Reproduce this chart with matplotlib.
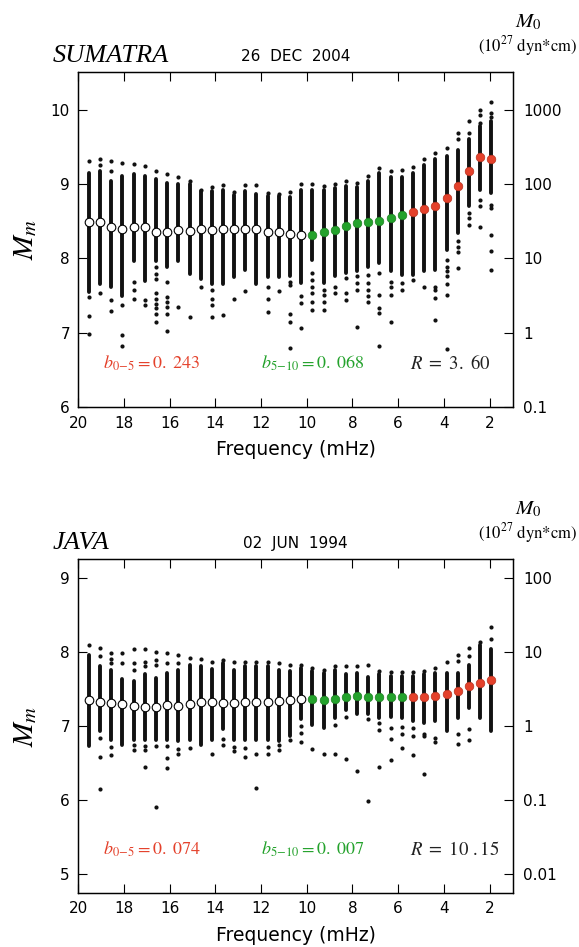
import numpy as np
import matplotlib
matplotlib.use("Agg")
import matplotlib.pyplot as plt

plt.rcParams['mathtext.fontset'] = 'stix'
plt.rcParams['font.family'] = 'DejaVu Sans'

# frequency of each column (mHz)
freqs = [19.53, 19.04, 18.55, 18.07, 17.58, 17.09, 16.60, 16.11, 15.62, 15.13,
         14.64, 14.15, 13.66, 13.17, 12.69, 12.20, 11.71, 11.22, 10.73, 10.24,
         9.75, 9.26, 8.77, 8.28, 7.79, 7.31, 6.82, 6.33, 5.84,
         5.35, 4.86, 4.37, 3.88, 3.39, 2.91, 2.42, 1.93]
n_white = 20   # > 10 mHz
n_green = 9    # 5-10 mHz, rest red

# ---- SUMATRA 26 DEC 2004 ----
sum_mean = [8.49, 8.49, 8.42, 8.39, 8.42, 8.42, 8.35, 8.36, 8.38, 8.37,
            8.39, 8.38, 8.40, 8.39, 8.40, 8.40, 8.36, 8.36, 8.33, 8.31,
            8.32, 8.35, 8.38, 8.43, 8.47, 8.49, 8.50, 8.54, 8.59,
            8.62, 8.67, 8.71, 8.81, 8.97, 9.18, 9.36, 9.34]
sum_core_hi = [9.15, 9.18, 9.04, 9.11, 9.13, 9.11, 9.07, 9.02, 9.00, 9.00,
               8.90, 8.90, 8.92, 8.85, 8.91, 8.87, 8.84, 8.84, 8.82, 8.92,
               8.92, 8.92, 8.94, 8.97, 8.96, 9.04, 9.15, 9.10, 9.09,
               9.15, 9.26, 9.33, 9.37, 9.46, 9.60, 9.78, 9.84]
sum_core_lo = [7.55, 7.66, 7.62, 7.50, 7.97, 7.70, 7.97, 7.88, 7.97, 7.79,
               7.73, 7.66, 7.66, 7.75, 7.84, 7.66, 7.75, 7.75, 7.77, 7.67,
               7.98, 7.67, 7.76, 7.80, 7.83, 7.89, 7.94, 7.83, 7.78,
               7.78, 7.83, 7.85, 8.12, 8.34, 8.70, 8.92, 8.88]
sum_dots = [
    [9.31, 7.48, 7.23, 6.99],
    [9.33, 9.25, 7.54],
    [9.31, 9.18, 7.44, 7.30],
    [9.28, 7.37, 6.97, 6.83],
    [9.27, 7.68, 7.57, 7.46],
    [9.24, 7.44, 7.37],
    [9.18, 7.88, 7.79, 7.73, 7.53, 7.46, 7.39, 7.33, 7.26, 7.15],
    [9.13, 7.68, 7.48, 7.42, 7.35, 7.26, 7.02],
    [9.09, 7.35],
    [9.04, 7.21],
    [8.92, 7.62],
    [8.96, 7.57, 7.46, 7.37, 7.21],
    [8.98, 7.24],
    [8.89, 7.45],
    [8.99, 7.56],
    [8.99],
    [8.88, 7.62, 7.46, 7.28],
    [8.87, 7.56],
    [8.89, 7.68, 7.64, 7.26, 7.15, 6.80],
    [9.00, 7.49, 7.40, 7.06],
    [9.00, 7.80, 7.71, 7.62, 7.53, 7.42, 7.31],
    [8.97, 7.58, 7.51, 7.42, 7.31],
    [9.00, 7.62, 7.54],
    [9.04, 7.74, 7.53, 7.44],
    [9.02, 7.76, 7.67, 7.58, 7.08],
    [9.11, 7.78, 7.67, 7.58, 7.50, 7.42],
    [9.22, 7.81, 7.51, 7.33, 7.27, 6.83],
    [9.18, 7.69, 7.62, 7.51, 7.14],
    [9.19, 7.67, 7.58],
    [9.23, 7.71],
    [9.33, 7.61],
    [9.42, 7.62, 7.58, 7.47, 7.17],
    [9.48, 7.98, 7.89, 7.83, 7.76, 7.65, 7.51, 6.79],
    [9.69, 9.61, 8.23, 8.16, 8.09, 7.87],
    [9.84, 9.69, 8.61, 8.54, 8.45],
    [9.99, 9.93, 9.82, 8.79, 8.70, 8.42],
    [10.10, 9.96, 9.90, 8.72, 8.68, 8.32, 8.10, 7.85],
]

# ---- JAVA 02 JUN 1994 ----
java_mean = [7.35, 7.33, 7.31, 7.30, 7.27, 7.26, 7.26, 7.28, 7.27, 7.30,
             7.32, 7.32, 7.31, 7.31, 7.32, 7.32, 7.33, 7.34, 7.35, 7.37,
             7.36, 7.35, 7.37, 7.39, 7.41, 7.39, 7.39, 7.39, 7.39,
             7.39, 7.39, 7.40, 7.43, 7.47, 7.54, 7.58, 7.62]
java_core_hi = [7.96, 7.81, 7.76, 7.63, 7.61, 7.70, 7.65, 7.72, 7.76, 7.83,
                7.81, 7.77, 7.85, 7.76, 7.81, 7.81, 7.81, 7.76, 7.74, 7.78,
                7.74, 7.72, 7.76, 7.70, 7.72, 7.66, 7.70, 7.68, 7.68,
                7.68, 7.70, 7.72, 7.72, 7.72, 7.83, 8.10, 8.04]
java_core_lo = [6.73, 6.93, 6.82, 6.75, 6.82, 6.82, 6.82, 6.82, 6.80, 6.82,
                6.75, 6.82, 6.96, 6.82, 6.82, 6.82, 6.82, 6.80, 6.87, 7.09,
                7.02, 6.98, 7.11, 7.22, 7.16, 7.16, 7.11, 7.13, 7.11,
                7.07, 7.04, 7.07, 6.93, 7.11, 7.25, 7.11, 6.93]
java_dots = [
    [8.09],
    [8.06, 7.94, 6.84, 6.58, 6.15],
    [7.98, 7.90, 7.85, 6.72, 6.61],
    [7.98, 7.85],
    [8.04, 7.85, 7.76, 6.74, 6.68],
    [8.04, 7.87, 7.81, 6.73, 6.68, 6.45],
    [8.00, 7.89, 7.82, 6.73, 5.91],
    [7.99, 7.85, 6.73, 6.57, 6.43],
    [7.96, 7.85, 6.69, 6.62],
    [7.92, 6.70],
    [7.91],
    [7.86, 6.62],
    [7.89, 6.83, 6.75],
    [7.86, 6.72, 6.66],
    [7.86, 6.70, 6.58],
    [7.86, 6.62, 6.17],
    [7.86, 6.72, 6.62],
    [7.85, 6.75, 6.68],
    [7.83, 6.82],
    [7.83, 7.00, 6.91, 6.78],
    [7.78, 6.69],
    [7.76, 6.62],
    [7.81, 7.01, 6.62],
    [7.81, 7.13, 6.56],
    [7.81, 6.39],
    [7.82, 7.10, 5.99],
    [7.74, 7.04, 6.95, 6.45],
    [7.73, 6.98, 6.83, 6.54],
    [7.73, 6.99, 6.90, 6.70],
    [7.73, 6.98, 6.87, 6.61],
    [7.74, 6.89, 6.87, 6.35],
    [7.78, 6.84, 6.78],
    [7.86],
    [7.96, 7.88, 6.89, 6.76],
    [8.06, 7.94, 6.96, 6.82],
    [8.13],
    [8.34, 8.17],
]

RED = '#e4412b'
GREEN = '#24a22c'


def draw_panel(ax, mean, core_hi, core_lo, dots, ylim, right_labels,
               name, date, b05, b510, rtext):
    x = np.array(freqs)
    # dense part of each column
    ax.vlines(x, core_lo, core_hi, color='#111111', lw=2.8, capstyle='round', zorder=2)
    # scattered single dots
    for f, d in zip(freqs, dots):
        ax.plot([f] * len(d), d, 'o', color='#111111', ms=3.0, mew=0, zorder=2)
    # mean values
    w, g = n_white, n_white + n_green
    ax.plot(x[:w], mean[:w], 'o', mfc='white', mec='black', mew=0.8, ms=6.2, zorder=3)
    ax.plot(x[w:g], mean[w:g], 'o', mfc=GREEN, mec='#1d7f22', mew=0.5, ms=6.2, zorder=3)
    ax.plot(x[g:], mean[g:], 'o', mfc=RED, mec='#b8321f', mew=0.5, ms=6.2, zorder=3)

    ax.set_xlim(20, 0.96)
    ax.set_ylim(*ylim)
    ax.set_xticks(np.arange(20, 1, -2))
    yt = np.arange(np.ceil(ylim[0]), ylim[1] + 0.01, 1)
    ax.set_yticks(yt)
    ax.set_yticklabels([str(int(v)) for v in yt])
    ax.tick_params(direction='in', length=6.5, width=0.8, top=True, labelsize=11, pad=6)
    ax.set_xlabel('Frequency (mHz)', fontsize=13.5, labelpad=7)
    for s in ax.spines.values():
        s.set_linewidth(0.9)

    ax2 = ax.twinx()
    ax2.set_ylim(*ylim)
    ax2.set_yticks(yt)
    ax2.set_yticklabels(right_labels)
    ax2.tick_params(direction='in', length=6.5, width=0.8, labelsize=11, pad=7)
    for s in ax2.spines.values():
        s.set_linewidth(0.9)

    ax.text(-0.122, 0.5, '$M_m$', transform=ax.transAxes, rotation=90,
            ha='center', va='center', fontsize=21)
    ax.text(-0.058, 1.032, name, transform=ax.transAxes, family='Liberation Serif',
            style='italic', fontsize=19, ha='left', va='baseline')
    ax.text(0.50, 1.033, date, transform=ax.transAxes, fontsize=11,
            ha='center', va='baseline')
    ax.text(1.034, 1.15, '$M_0$', transform=ax.transAxes, fontsize=15,
            ha='center', va='center')
    ax.text(1.034, 1.08, r'$(10^{27}\ \mathrm{dyn{*}cm})$', transform=ax.transAxes,
            fontsize=12, ha='center', va='center')
    ax.text(0.057, 0.115, b05, transform=ax.transAxes, color=RED, fontsize=13,
            ha='left', va='baseline')
    ax.text(0.42, 0.115, b510, transform=ax.transAxes, color=GREEN, fontsize=13,
            ha='left', va='baseline')
    ax.text(0.762, 0.115, rtext, transform=ax.transAxes, color='#222222', fontsize=13.5,
            ha='left', va='baseline')


def draw_all_graphs():
    fig = plt.figure(figsize=(5.79, 9.47), dpi=100)
    ax_top = fig.add_axes([0.1352, 0.5699, 0.7513, 0.3537])
    ax_bot = fig.add_axes([0.1352, 0.0570, 0.7513, 0.3524])
    draw_panel(ax_top, sum_mean, sum_core_hi, sum_core_lo, sum_dots, (6.0, 10.5),
               ['0.1', '1', '10', '100', '1000'], 'SUMATRA', '26  DEC  2004',
               r'$b_{0\!-\!5} = 0.\ 243$', r'$b_{5\!-\!10} = 0.\ 068$',
               r'$R\ =\ 3.\ 60$')
    draw_panel(ax_bot, java_mean, java_core_hi, java_core_lo, java_dots, (4.75, 9.25),
               ['0.01', '0.1', '1', '10', '100'], 'JAVA', '02  JUN  1994',
               r'$b_{0\!-\!5} = 0.\ 074$', r'$b_{5\!-\!10} = 0.\ 007$',
               r'$R\ =\ 10\ .15$')
    fig.savefig('out.png', dpi=100)


if __name__ == '__main__':
    draw_all_graphs()
